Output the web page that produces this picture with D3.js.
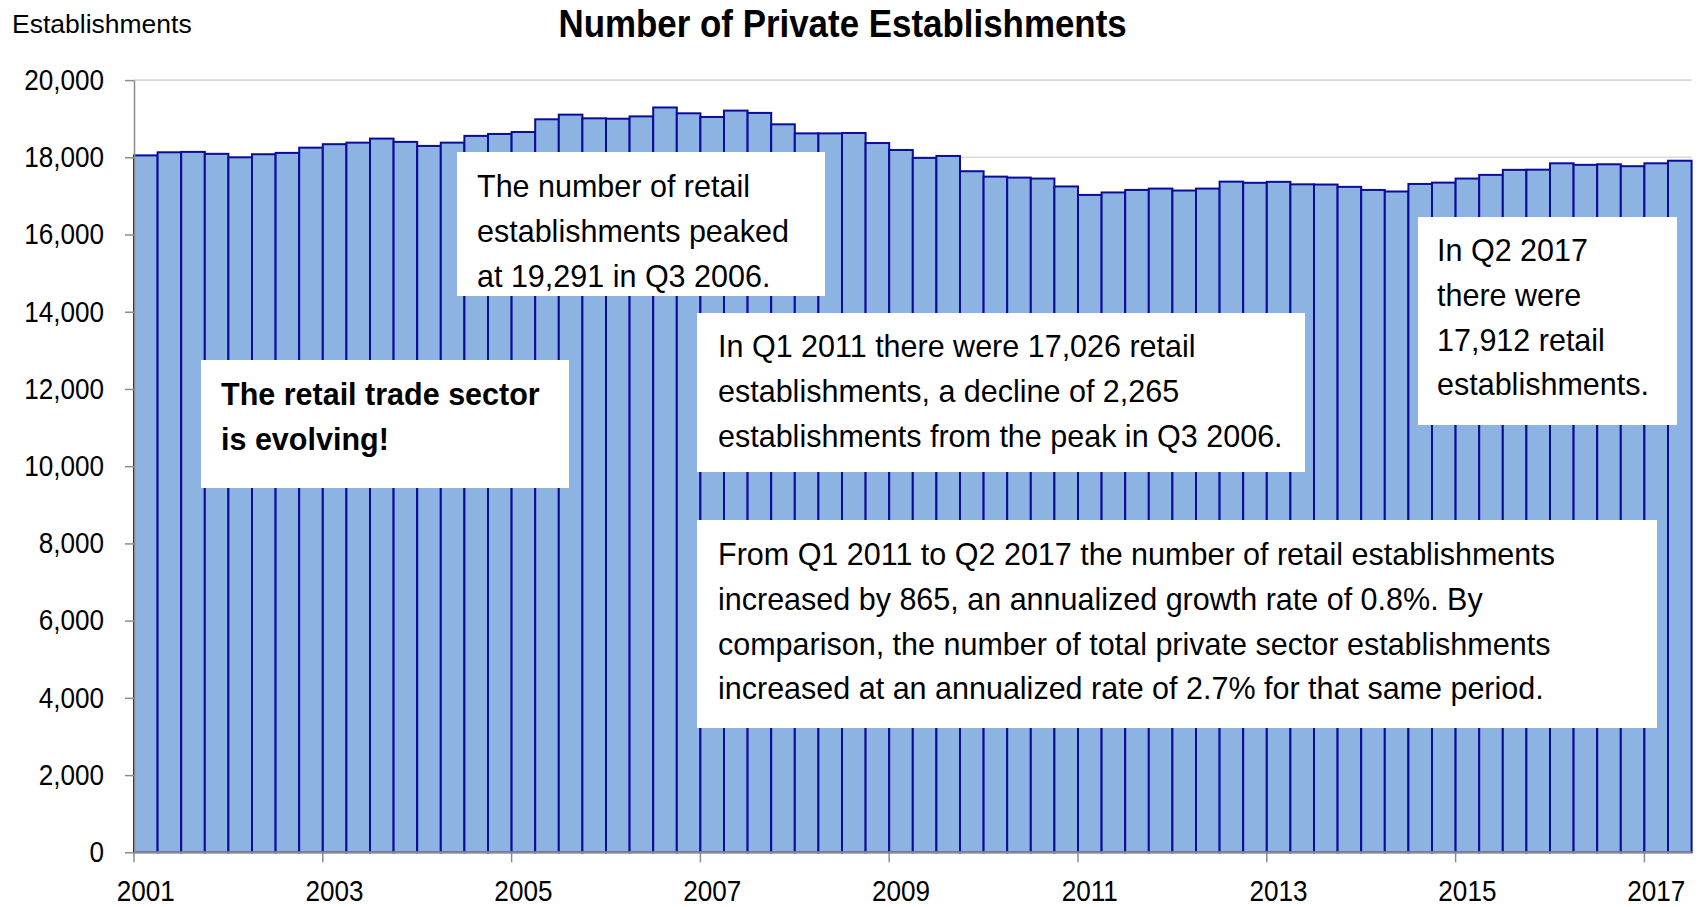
<!DOCTYPE html>
<html>
<head>
<meta charset="utf-8">
<script src="https://cdn.jsdelivr.net/npm/d3@7"></script>
<style>
  body { margin: 0; background: #fff; }
  svg { display: block; font-family: "Liberation Sans", Arial, sans-serif; }
</style>
</head>
<body>
<div class="chart"></div>
<script>
// quarterly retail establishments, Q1 2001 - Q2 2017
var years = [2001, 2002, 2003, 2004, 2005, 2006, 2007, 2008, 2009,
             2010, 2011, 2012, 2013, 2014, 2015, 2016, 2017];

var establishments = [
  18050, 18130, 18140, 18090,   // 2001
  18000, 18080, 18115, 18250,   // 2002
  18340, 18380, 18485, 18400,   // 2003
  18295, 18380, 18555, 18605,   // 2004
  18655, 18985, 19105, 19010,   // 2005
  19000, 19060, 19291, 19140,   // 2006
  19045, 19210, 19150, 18855,   // 2007
  18620, 18620, 18630, 18370,   // 2008
  18190, 17985, 18035, 17640,   // 2009
  17500, 17475, 17450, 17245,   // 2010
  17026, 17090, 17155, 17190,   // 2011
  17140, 17190, 17370, 17340,   // 2012
  17365, 17300, 17295, 17235,   // 2013
  17155, 17115, 17310, 17345,   // 2014
  17450, 17545, 17675, 17680,   // 2015
  17845, 17805, 17820, 17770,   // 2016
  17845, 17912                  // 2017
];

var yTicks = [0, 2000, 4000, 6000, 8000, 10000, 12000, 14000, 16000, 18000, 20000];
var yearLabels = [2001, 2003, 2005, 2007, 2009, 2011, 2013, 2015, 2017];

var titleText = "Number of Private Establishments";
var yAxisTitle = "Establishments";

var noteEvolving = ["The retail trade sector", "is evolving!"];
var notePeak = ["The number of retail", "establishments peaked", "at 19,291 in Q3 2006."];
var noteTrough = ["In Q1 2011 there were 17,026 retail", "establishments, a decline of 2,265",
                  "establishments from the peak in Q3 2006."];
var noteLatest = ["In Q2 2017", "there were", "17,912 retail", "establishments."];
var noteGrowth = ["From Q1 2011 to Q2 2017 the number of retail establishments",
                  "increased by 865, an annualized growth rate of 0.8%. By",
                  "comparison, the number of total private sector establishments",
                  "increased at an annualized rate of 2.7% for that same period."];

// quarter categories
var quarters = [];
years.forEach(function(yr) {
  ["Q1", "Q2", "Q3", "Q4"].forEach(function(q) {
    if (quarters.length < establishments.length) quarters.push(yr + " " + q);
  });
});
var data = quarters.map(function(q, i) { return { quarter: q, value: establishments[i] }; });

var svgWidth = 1698;
var svgHeight = 907;
var plot = { left: 134, right: 1691.6, top: 80.1, bottom: 852.3 };

// no narrow face installed, so squeeze regular text horizontally
var squeeze = 0.9;

var svg = d3.select(".chart")
  .append("svg")
  .attr("width", svgWidth)
  .attr("height", svgHeight);

var xScale = d3.scaleBand()
  .domain(quarters)
  .range([plot.left, plot.right])
  .padding(0);

var yScale = d3.scaleLinear()
  .domain([0, 20000])
  .range([plot.bottom, plot.top]);

// gridlines
svg.append("g")
  .selectAll("line")
  .data(yTicks.filter(function(d) { return d > 0; }))
  .enter()
  .append("line")
  .attr("x1", plot.left)
  .attr("x2", plot.right)
  .attr("y1", function(d) { return yScale(d); })
  .attr("y2", function(d) { return yScale(d); })
  .attr("stroke", "#d9d9d9")
  .attr("stroke-width", 1.6);

// bars
svg.append("g")
  .selectAll("rect")
  .data(data)
  .enter()
  .append("rect")
  .attr("x", function(d) { return xScale(d.quarter); })
  .attr("y", function(d) { return yScale(d.value); })
  .attr("width", xScale.bandwidth())
  .attr("height", function(d) { return plot.bottom - yScale(d.value); })
  .attr("fill", "#8db3e2")
  .attr("stroke", "#0b0b9c")
  .attr("stroke-width", 2);

// y axis
var leftAxis = d3.axisLeft(yScale)
  .tickValues(yTicks)
  .tickFormat(d3.format(","))
  .tickSizeInner(9)
  .tickSizeOuter(0);

var yAxisG = svg.append("g")
  .attr("transform", "translate(" + plot.left + ",0)")
  .call(leftAxis);
yAxisG.select(".domain").attr("stroke", "#8c8c8c").attr("stroke-width", 1.5);
yAxisG.selectAll(".tick line").attr("stroke", "#8c8c8c").attr("stroke-width", 1.5);
yAxisG.selectAll(".tick text")
  .attr("x", -30 / squeeze)
  .attr("transform", "scale(" + squeeze + ",1)")
  .attr("font-size", 29)
  .attr("fill", "#000");

// x axis: ticks at the start of Q1, labels centred on the Q1 bar
var tickQuarters = yearLabels.map(function(y) { return y + " Q1"; });
var xAxisG = svg.append("g")
  .attr("transform", "translate(0," + plot.bottom + ")");

xAxisG.append("line")
  .attr("x1", plot.left)
  .attr("x2", plot.right)
  .attr("stroke", "#8c8c8c")
  .attr("stroke-width", 2);

xAxisG.selectAll(".xtick")
  .data(tickQuarters)
  .enter()
  .append("line")
  .attr("class", "xtick")
  .attr("x1", function(d) { return xScale(d); })
  .attr("x2", function(d) { return xScale(d); })
  .attr("y1", 0)
  .attr("y2", 10)
  .attr("stroke", "#8c8c8c")
  .attr("stroke-width", 1.5);

xAxisG.selectAll(".xlabel")
  .data(tickQuarters)
  .enter()
  .append("text")
  .attr("class", "xlabel")
  .attr("x", function(d) { return (xScale(d) + xScale.bandwidth() / 2) / squeeze; })
  .attr("y", 49)
  .attr("transform", "scale(" + squeeze + ",1)")
  .attr("text-anchor", "middle")
  .attr("font-size", 29)
  .text(function(d) { return d.slice(0, 4); });

// titles
svg.append("text")
  .attr("x", 842.6 / 0.895)
  .attr("y", 37)
  .attr("transform", "scale(0.895,1)")
  .attr("text-anchor", "middle")
  .attr("font-size", 39)
  .attr("font-weight", "bold")
  .text(titleText);

svg.append("text")
  .attr("x", 12)
  .attr("y", 33)
  .attr("font-size", 26.5)
  .text(yAxisTitle);

// annotation boxes
function note(lines, box, textX, firstBaseline, bold) {
  var g = svg.append("g");
  g.append("rect")
    .attr("x", box[0])
    .attr("y", box[1])
    .attr("width", box[2] - box[0])
    .attr("height", box[3] - box[1])
    .attr("fill", "#fff");
  g.append("text")
    .attr("font-size", 30.5)
    .attr("font-weight", bold ? "bold" : "normal")
    .selectAll("tspan")
    .data(lines)
    .enter()
    .append("tspan")
    .attr("x", textX)
    .attr("y", function(d, i) { return firstBaseline + i * 44.8; })
    .text(function(d) { return d; });
}

note(noteEvolving, [201, 360, 569, 488], 221, 405, true);
note(notePeak, [457, 152, 825, 296], 477, 197, false);
note(noteTrough, [697, 313, 1305, 472], 718, 357, false);
note(noteLatest, [1418, 217, 1677, 425], 1437, 261, false);
note(noteGrowth, [697, 520, 1657, 728], 718, 565, false);
</script>
</body>
</html>
